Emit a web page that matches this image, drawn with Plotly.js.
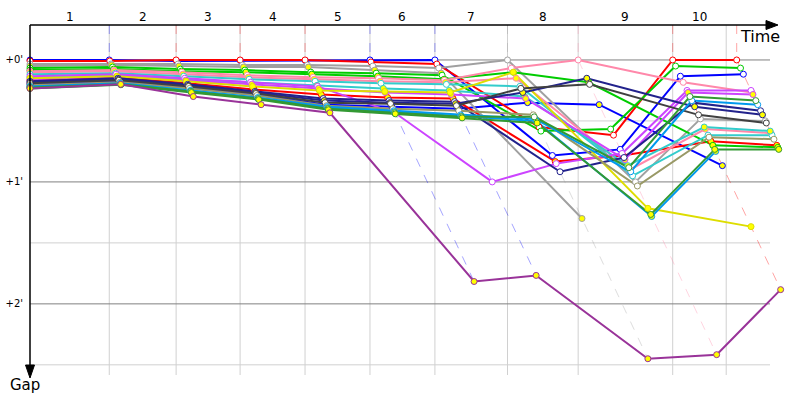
<!DOCTYPE html>
<html><head><meta charset="utf-8">
<script src="https://cdn.plot.ly/plotly-3.0.1.min.js"></script>
<style>html,body{margin:0;padding:0;background:#fff}#chart{width:800px;height:400px}</style>
</head><body><div id="chart"></div>
<script>
// ---- data ----
const lapLabels = ['1','2','3','4','5','6','7','8','9','10'];
const lapMarks = [83,153,220,288,356,424,500,574,673,729];        // grid lines (race time, s)
const leaderTimes = [0,83,153,220,288,356,424,500,574,673,740];    // leader crossing time per lap (s)
const gapTickVals = [0,60,120];
const gapTickText = ["+0'","+1'","+2'"];
const gapMinor = [30,90,150];

// gaps to leader (s) at laps 0..10
const gBlue    = [0,0,0.5,0.3,0.3,0,0,47,44,8,7];
const gBlue2   = [12,10.5,13.5,17,22,23,24,21,22,52,null];
const gRed     = [0.5,0.5,0,0,0,1,2,33,37,0,0];
const gRed2    = [10,8.5,11.5,14.5,17,18.5,19,50,47,40,42];
const gGrey    = [2,2,2,2.5,2.5,3,4,0,60,29,30];
const gGrey2   = [3,2.5,3,3.5,3.5,5,6.5,78,null,null,null];
const gGreen   = [4,3.5,4.5,5,6,6.5,7.5,35,34,3,4];
const gGreen2  = [5,4.5,5.5,6,7,8,9.5,6,11,42,43];
const gPink    = [5.5,5,6,7.5,8.5,9,10,4,0,11,16];
const gPink2   = [6,5.5,7,8.5,9.5,10.5,11,9,54,34,36];
const gCyan    = [7,6.5,8,9.5,10.5,11.5,12,13,57,37,37];
const gCyan2   = [8.5,7.5,9.5,11,12.5,14,15,18,52,33,35];
const gViolet  = [8,7,9,11,13,26,60,51,46,15,15];
const gViolet2 = [9.5,8,10,12,14,16,17,19,49,16,17];
const gYellow  = [9,8,10.5,13,15,15.5,16,6,73,82,null];
const gNavy    = [10.5,9,12,15.5,19,20,20.5,55,48,21,25];
const gNavy2   = [11,9.5,12.5,16,20,21,21.5,16,9,23,27];
const gDGrey   = [11.5,10,13,16.5,21,21.5,22.5,14,12,27,31];
const gOlive   = [12.5,11,14,17.5,22.5,24,25,27,62,38,39];
const gLBlue   = [13,11.5,15,18.5,23,25,27,29,55,20,22];
const gLBlue2  = [13.2,11.8,15.2,19,23.5,25.5,27.5,30,77,45,null];
const gDGreen  = [13.5,12,15.5,19,24,26,28,28,53,18,20];
const gDGreen2 = [14,12.2,16,19.5,24.5,26.5,28.5,31,76,44,44];
const gPurple  = [14,12,18,22,26,109,106,147,145,113,null];

// style per driver: line colour, marker fill (team mates: white / yellow)
const drivers = [
  {c:'#0000ff', f:'#ffffff', g:gBlue},   {c:'#0000ff', f:'#ffff00', g:gBlue2},
  {c:'#ff0000', f:'#ffffff', g:gRed},    {c:'#ff0000', f:'#ffff00', g:gRed2},
  {c:'#a0a0a0', f:'#ffffff', g:gGrey},   {c:'#a0a0a0', f:'#ffff00', g:gGrey2},
  {c:'#00cc00', f:'#ffffff', g:gGreen},  {c:'#00cc00', f:'#ffff00', g:gGreen2},
  {c:'#ff88aa', f:'#ffffff', g:gPink},   {c:'#ff88aa', f:'#ffff00', g:gPink2},
  {c:'#33cccc', f:'#ffffff', g:gCyan},   {c:'#33cccc', f:'#ffff00', g:gCyan2},
  {c:'#cc44ff', f:'#ffffff', g:gViolet}, {c:'#cc44ff', f:'#ffff00', g:gViolet2},
  {c:'#dddd00', f:'#ffff00', g:gYellow},
  {c:'#22228c', f:'#ffffff', g:gNavy},   {c:'#22228c', f:'#ffff00', g:gNavy2},
  {c:'#404040', f:'#ffffff', g:gDGrey},  {c:'#999966', f:'#ffffff', g:gOlive},
  {c:'#0099ee', f:'#ffffff', g:gLBlue},  {c:'#0099ee', f:'#ffff00', g:gLBlue2},
  {c:'#339933', f:'#ffffff', g:gDGreen}, {c:'#339933', f:'#ffff00', g:gDGreen2},
  {c:'#993399', f:'#ffff00', g:gPurple}
];

// ---- layout constants ----
const PXS = 0.955;            // px per second horizontally
const L = 30, R = 10, T = 25, B = 25, W = 800, H = 400;
const xMax = (W - L - R) / PXS;
const yTop = -17.2, yBot = 155;
const px2paperX = p => (p - L) / (W - L - R);
const px2paperY = p => (H - B - p) / (H - T - B);

const nLaps = leaderTimes.length;
const xOf = (lap, gap) => lap === 0 ? 0 : leaderTimes[lap] + gap;

const traces = [];
// dashed lap lines (leader colour, from leader to last car of the lap)
for (let l = 1; l < nLaps; l++) {
  let lead = null, gmax = -1;
  drivers.forEach(d => {
    const g = d.g[l];
    if (g === null || g === undefined) return;
    if (lead === null || g < lead.g[l]) lead = d;
    if (g > gmax) gmax = g;
  });
  traces.push({
    x: [leaderTimes[l], leaderTimes[l], leaderTimes[l] + gmax],
    y: [yTop, 0, gmax], mode: 'lines', type: 'scatter',
    line: {color: lead.c, width: 1, dash: 'dash'}, opacity: 0.35,
    hoverinfo: 'skip', showlegend: false
  });
}
// driver lines
drivers.forEach(d => {
  const xs = [], ys = [];
  d.g.forEach((g, l) => { if (g === null) { xs.push(null); ys.push(null); } else { xs.push(xOf(l, g)); ys.push(g); } });
  traces.push({x: xs, y: ys, mode: 'lines', type: 'scatter', line: {color: d.c, width: 2},
    hoverinfo: 'skip', showlegend: false, cliponaxis: false});
});
// markers on top
drivers.forEach(d => {
  const xs = [], ys = [];
  d.g.forEach((g, l) => { if (g === null) return; xs.push(xOf(l, g)); ys.push(g); });
  traces.push({x: xs, y: ys, mode: 'markers', type: 'scatter', cliponaxis: false,
    marker: {size: 6, color: d.f, line: {color: d.c, width: 1}},
    hoverinfo: 'skip', showlegend: false});
});

const shapes = [];
gapMinor.forEach(v => shapes.push({type: 'line', xref: 'x', yref: 'y', x0: 0, x1: (770 - L) / PXS, y0: v, y1: v,
  line: {color: '#d0d0d0', width: 1}, layer: 'below'}));
lapMarks.forEach(v => shapes.push({type: 'line', xref: 'x', yref: 'y', x0: v, x1: v, y0: yTop, y1: yBot,
  line: {color: '#d0d0d0', width: 1}, layer: 'below'}));
gapTickVals.forEach(v => shapes.push({type: 'line', xref: 'x', yref: 'y', x0: 0, x1: (770 - L) / PXS, y0: v, y1: v,
  line: {color: '#808080', width: 1}, layer: 'below'}));
// axes with arrows
shapes.push({type: 'line', xref: 'paper', yref: 'paper', x0: 0, x1: px2paperX(770), y0: 1, y1: 1, line: {color: '#000', width: 1.5}});
shapes.push({type: 'path', xref: 'paper', yref: 'paper', fillcolor: '#000', line: {color: '#000', width: 1},
  path: `M ${px2paperX(766)} ${px2paperY(20.5)} L ${px2paperX(778)} ${px2paperY(25)} L ${px2paperX(766)} ${px2paperY(29.5)} Z`});
shapes.push({type: 'line', xref: 'paper', yref: 'paper', x0: 0, x1: 0, y0: 1, y1: px2paperY(368), line: {color: '#000', width: 1.5}});
shapes.push({type: 'path', xref: 'paper', yref: 'paper', fillcolor: '#000', line: {color: '#000', width: 1},
  path: `M ${px2paperX(25.5)} ${px2paperY(365)} L ${px2paperX(30)} ${px2paperY(378)} L ${px2paperX(34.5)} ${px2paperY(365)} Z`});

const font = 'DejaVu Sans, Verdana, sans-serif';
const annotations = [];
const bounds = [0].concat(lapMarks);
lapLabels.forEach((t, i) => {
  const mid = (bounds[i] + bounds[i + 1]) / 2;
  annotations.push({x: mid, xref: 'x', y: px2paperY(17), yref: 'paper', text: t, showarrow: false,
    font: {family: font, size: 12, color: '#000'}, xanchor: 'center', yanchor: 'middle'});
});
annotations.push({x: px2paperX(760), xref: 'paper', y: px2paperY(36), yref: 'paper', text: 'Time', showarrow: false,
  font: {family: font, size: 16, color: '#000'}, xanchor: 'center', yanchor: 'middle'});
annotations.push({x: px2paperX(25), xref: 'paper', y: px2paperY(385), yref: 'paper', text: 'Gap', showarrow: false,
  font: {family: font, size: 15, color: '#000'}, xanchor: 'center', yanchor: 'middle'});

const layout = {
  width: W, height: H, margin: {l: L, r: R, t: T, b: B, pad: 0},
  paper_bgcolor: '#fff', plot_bgcolor: '#fff', showlegend: false, hovermode: false,
  xaxis: {range: [0, xMax], showgrid: false, zeroline: false, showline: false, showticklabels: false, ticks: ''},
  yaxis: {range: [yBot, yTop], showgrid: false, zeroline: false, showline: false, ticks: '',
    tickvals: gapTickVals, ticktext: gapTickText, tickfont: {family: font, size: 10, color: '#000'}, ticklabelstandoff: 6},
  shapes, annotations
};
Plotly.newPlot('chart', traces, layout, {staticPlot: true, displayModeBar: false});
</script></body></html>
